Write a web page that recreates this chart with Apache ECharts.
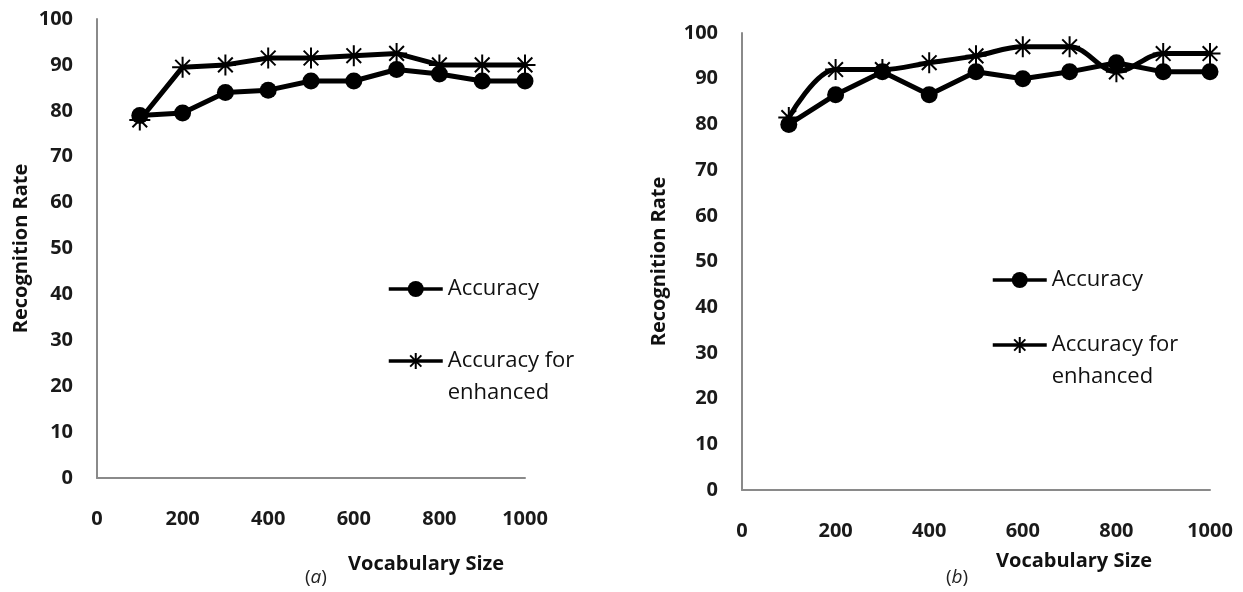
<!DOCTYPE html>
<html>
<head>
<meta charset="utf-8">
<script src="https://cdn.jsdelivr.net/npm/echarts@6/dist/echarts.min.js"></script>
<style>
  html, body { margin: 0; padding: 0; background: #fff; }
  #chart { width: 1243px; height: 592px; }
</style>
</head>
<body>
<div id="chart"></div>
<script>
const vocabSizes = [100, 200, 300, 400, 500, 600, 700, 800, 900, 1000];
const accuracyA = [79, 79.5, 84, 84.5, 86.5, 86.5, 89, 88, 86.5, 86.5];
const enhancedA = [78, 89.5, 90, 91.5, 91.5, 92, 92.5, 90, 90, 90];
const accuracyB = [80, 86.5, 91.5, 86.5, 91.5, 90, 91.5, 93.5, 91.5, 91.5];
const enhancedB = [81.5, 92, 92, 93.5, 95, 97, 97, 91.5, 95.5, 95.5];
const seriesNames = ['Accuracy', 'Accuracy for enhanced'];

const font = 'Open Sans';
const starPath = 'path://M10,0L10,20M0,10L20,10M3,3L17,17M3,17L17,3';

const pairs = (ys) => vocabSizes.map((x, i) => [x, ys[i]]);

let mychart = echarts.init(document.getElementById('chart'));

const axisLine = { show: true, lineStyle: { color: '#8a8a8a', width: 2 } };
const tickLabel = { color: '#1a1a1a', fontFamily: font, fontWeight: 'bold', fontSize: 20 };

const makeX = (gridIndex) => ({
    type: 'value',
    gridIndex: gridIndex,
    min: 0,
    max: 1000,
    interval: 200,
    axisLine: axisLine,
    axisTick: { show: false },
    splitLine: { show: false },
    axisLabel: Object.assign({ margin: 31, formatter: (v) => String(v) }, tickLabel),
});
const makeY = (gridIndex, gap) => ({
    type: 'value',
    gridIndex: gridIndex,
    min: 0,
    max: 100,
    interval: 10,
    name: 'Recognition Rate',
    nameLocation: 'middle',
    nameGap: gap,
    nameTextStyle: { color: '#111', fontFamily: font, fontWeight: 'bold', fontSize: 20 },
    axisLine: axisLine,
    axisTick: { show: false },
    splitLine: { show: false },
    axisLabel: Object.assign({ margin: 24 }, tickLabel),
});

const circleSeries = (name, idx, data, smooth) => ({
    name: name,
    type: 'line',
    xAxisIndex: idx,
    yAxisIndex: idx,
    data: pairs(data),
    smooth: smooth,
    symbol: 'circle',
    symbolSize: 17,
    lineStyle: { color: '#000', width: 5 },
    itemStyle: { color: '#000' },
    z: 3,
});
const starSeries = (name, idx, data, smooth) => ({
    name: name,
    type: 'line',
    xAxisIndex: idx,
    yAxisIndex: idx,
    data: pairs(data),
    smooth: smooth,
    symbol: starPath,
    symbolSize: 21,
    lineStyle: { color: '#000', width: 5 },
    itemStyle: { color: '#000', borderColor: '#000', borderWidth: 2 },
    z: 2,
});

const legendText = { color: '#111', fontFamily: font, fontSize: 22, lineHeight: 32 };
const makeLegend = (name, left, top) => ({
    data: [name],
    left: left,
    top: top,
    orient: 'vertical',
    padding: 0,
    itemWidth: 54,
    itemHeight: 20,
    selectedMode: false,
    lineStyle: { width: 3.5, color: '#000' },
    // blank first line keeps the icon level with "Accuracy for"
    formatter: (n) => n === 'Accuracy for enhanced' ? ' \nAccuracy for\nenhanced' : n,
    textStyle: legendText,
});

let option = {
    animation: false,
    backgroundColor: '#fff',
    grid: [
        { left: 97, top: 19, width: 428, height: 459 },
        { left: 742, top: 33, width: 468, height: 457 },
    ],
    xAxis: [makeX(0), makeX(1)],
    yAxis: [makeY(0, 66), makeY(1, 73)],
    legend: [
        makeLegend(seriesNames[0], 387, 273),
        makeLegend(seriesNames[1], 387, 313),
        makeLegend(seriesNames[0], 991, 264),
        makeLegend(seriesNames[1], 991, 297),
    ],
    graphic: [
        { type: 'text', left: 432 - 84, top: 554, style: { text: 'Vocabulary Size', fill: '#111', font: 'bold 20px "Open Sans"' } },
        { type: 'text', left: 1080 - 84, top: 551, style: { text: 'Vocabulary Size', fill: '#111', font: 'bold 20px "Open Sans"' } },
        { type: 'text', left: 305, top: 568, style: { text: '{n|(}{i|a}{n|)}', rich: { n: { fill: '#222', font: '19px "Open Sans"' }, i: { fill: '#222', font: 'italic 19px "Open Sans"' } } } },
        { type: 'text', left: 946, top: 568, style: { text: '{n|(}{i|b}{n|)}', rich: { n: { fill: '#222', font: '19px "Open Sans"' }, i: { fill: '#222', font: 'italic 19px "Open Sans"' } } } },
    ],
    series: [
        circleSeries(seriesNames[0], 0, accuracyA, false),
        starSeries(seriesNames[1], 0, enhancedA, false),
        circleSeries(seriesNames[0], 1, accuracyB, false),
        starSeries(seriesNames[1], 1, enhancedB, 0.35),
    ],
};
mychart.setOption(option);
window.addEventListener('resize', () => {
    mychart.resize();
});
</script>
</body>
</html>
